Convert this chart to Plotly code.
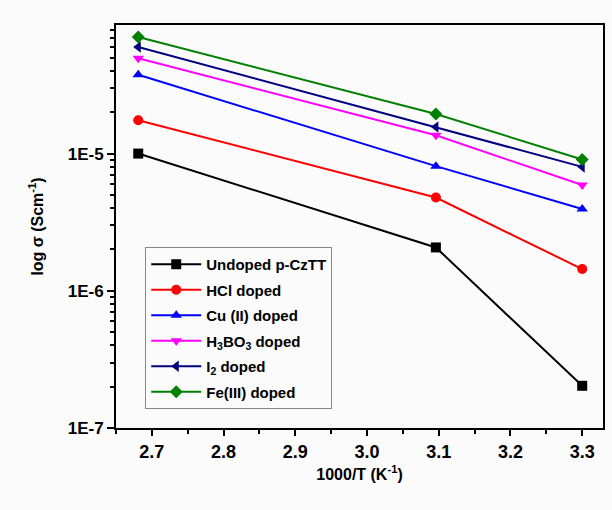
import plotly.graph_objects as go

x_vals = [2.681, 3.096, 3.300]

undoped = [1.00e-5, 2.07e-6, 2.03e-7]
hcl = [1.75e-5, 4.78e-6, 1.44e-6]
cu = [3.75e-5, 8.1e-6, 3.95e-6]
h3bo3 = [4.95e-5, 1.36e-5, 5.9e-6]
iodine = [5.98e-5, 1.56e-5, 8.0e-6]
fe = [7.08e-5, 1.94e-5, 9.06e-6]

names = ["Undoped p-CzTT", "HCl doped", "Cu (II) doped",
         "H<sub>3</sub>BO<sub>3</sub> doped", "I<sub>2</sub> doped", "Fe(III) doped"]
series = [undoped, hcl, cu, h3bo3, iodine, fe]
colors = ["#000000", "#FF0000", "#0000FF", "#FF00FF", "#000080", "#008000"]
symbols = ["square", "circle", "triangle-up", "triangle-down", "triangle-left", "diamond"]

y_major = [1e-7, 1e-6, 1e-5]
y_major_text = ["1E-7", "1E-6", "1E-5"]
y_minor = [m * 10.0 ** e for e in (-7, -6, -5) for m in range(2, 10)]

fig = go.Figure()
for i, (nm, ys, c, s) in enumerate(zip(names, series, colors, symbols)):
    fig.add_trace(go.Scatter(
        x=x_vals, y=ys, name=nm, mode="lines+markers",
        line=dict(color=c, width=2),
        marker=dict(symbol=s, size=10, color=c),
        legendgroup=str(i),
    ))

font_family = "Liberation Sans, Arial, sans-serif"
fig.update_layout(
    width=612, height=510,
    margin=dict(l=115.5, r=7, t=25, b=82),
    paper_bgcolor="#fbfbfb", plot_bgcolor="#fbfbfb",
    font=dict(family=font_family, color="black"),
    legend=dict(
        x=0.06, y=0.449, xanchor="left", yanchor="top",
        bordercolor="#888888", borderwidth=1, bgcolor="#fbfbfb",
        font=dict(size=15, family=font_family, weight="bold"),
        traceorder="grouped", tracegroupgap=3, itemwidth=50,
    ),
    showlegend=True,
)
fig.update_xaxes(
    range=[2.65, 3.329], tick0=2.7, dtick=0.1, tickformat=".1f",
    ticks="outside", ticklen=6, tickwidth=2, tickcolor="black",
    minor=dict(dtick=0.05, tick0=2.65, ticks="outside", ticklen=4, tickwidth=2, tickcolor="black"),
    showline=True, linecolor="black", linewidth=2, mirror=True,
    showgrid=False, zeroline=False,
    tickfont=dict(size=18, family=font_family, weight="bold"),
    title=dict(text="1000/T (K<sup>-1</sup>)", font=dict(size=16, family=font_family, weight="bold"), standoff=8),
)
fig.update_yaxes(
    type="log", range=[-7, -4.063],
    tickmode="array", tickvals=y_major, ticktext=y_major_text,
    ticks="outside", ticklen=7, tickwidth=2, tickcolor="black",
    minor=dict(tickvals=y_minor, ticks="outside", ticklen=4, tickwidth=2, tickcolor="black", showgrid=False),
    showline=True, linecolor="black", linewidth=2, mirror=True,
    showgrid=False, zeroline=False,
    tickfont=dict(size=17, family=font_family, weight="bold"),
    title=dict(text="log σ (Scm<sup>-1</sup>)", font=dict(size=16, family=font_family, weight="bold"), standoff=20),
)
fig.write_html("out.html")
